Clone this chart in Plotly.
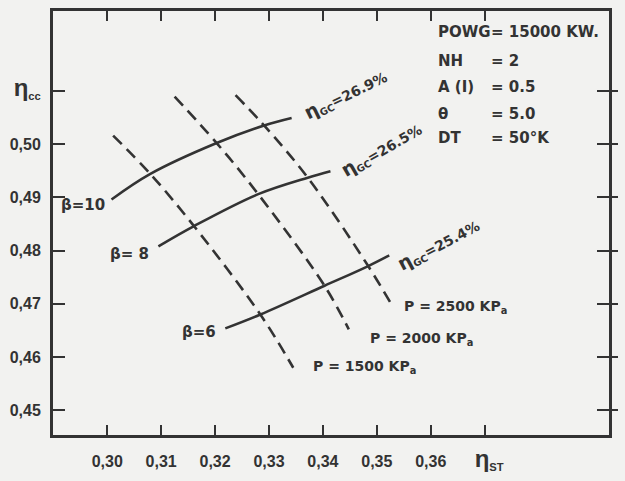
import plotly.graph_objects as go

# Cycle efficiency eta_cc versus steam-turbine efficiency eta_ST
# Solid curves: constant pressure ratio beta; dashed curves: constant pressure P
beta10_x = [0.3008, 0.3080, 0.3203, 0.3291, 0.3342]
beta10_y = [0.4896, 0.4944, 0.5002, 0.5035, 0.5049]
beta8_x = [0.3095, 0.3161, 0.3280, 0.3372, 0.3414]
beta8_y = [0.4808, 0.4846, 0.4906, 0.4937, 0.4949]
beta6_x = [0.3219, 0.3284, 0.3403, 0.3484, 0.3523]
beta6_y = [0.4654, 0.4680, 0.4734, 0.4771, 0.4791]

p1500_x = [0.3011, 0.3080, 0.3161, 0.3284, 0.3345]
p1500_y = [0.5016, 0.4944, 0.4846, 0.4680, 0.4580]
p2000_x = [0.3125, 0.3203, 0.3280, 0.3403, 0.3448]
p2000_y = [0.5089, 0.5002, 0.4906, 0.4734, 0.4652]
p2500_x = [0.3238, 0.3291, 0.3372, 0.3484, 0.3531]
p2500_y = [0.5092, 0.5035, 0.4937, 0.4771, 0.4692]

x_ticks = [0.30, 0.31, 0.32, 0.33, 0.34, 0.35, 0.36, 0.37]
x_tick_text = ["0,30", "0,31", "0,32", "0,33", "0,34", "0,35", "0,36",
               "  <span style='font-size:24px'>η</span><sub>ST</sub>"]
y_ticks = [0.45, 0.46, 0.47, 0.48, 0.49, 0.50, 0.51]
y_tick_text = ["0,45", "0,46", "0,47", "0,48", "0,49", "0,50",
               "<span style='font-size:24px'>η</span><sub>cc</sub>"]

beta_labels = ["β=10", "β= 8", "β=6"]
eta_gc_labels = ["<span style='font-size:19px'>η</span><sub>GC</sub>=26.9%",
                 "<span style='font-size:19px'>η</span><sub>GC</sub>=26.5%",
                 "<span style='font-size:19px'>η</span><sub>GC</sub>=25.4%"]
p_labels = ["P = 2500 KP<sub>a</sub>", "P = 2000 KP<sub>a</sub>", "P = 1500 KP<sub>a</sub>"]
param_names = ["POWG", "NH", "A (I)", "θ", "DT"]
param_values = ["= 15000 KW.", "= 2", "= 0.5", "= 5.0", "= 50°K"]

INK = "#333333"
BG = "#f2f2f0"
TICK_FONT = dict(family="Liberation Sans, Arial, sans-serif", size=16, color=INK, weight=700)
HAND_FONT = dict(family="DejaVu Sans, sans-serif", size=15, color=INK, weight=700)
LABEL_FONT = dict(family="DejaVu Sans, sans-serif", size=14, color=INK, weight=700)
BLOCK_FONT = dict(family="DejaVu Sans, sans-serif", size=15, color=INK, weight=700)

fig = go.Figure()

for xs, ys in [(beta10_x, beta10_y), (beta8_x, beta8_y), (beta6_x, beta6_y)]:
    fig.add_trace(go.Scatter(
        x=xs, y=ys, mode="lines",
        line=dict(color=INK, width=2.6, shape="spline", smoothing=1.0),
        hoverinfo="skip", showlegend=False))

for xs, ys in [(p1500_x, p1500_y), (p2000_x, p2000_y), (p2500_x, p2500_y)]:
    fig.add_trace(go.Scatter(
        x=xs, y=ys, mode="lines",
        line=dict(color=INK, width=2.6, dash="12px,7px", shape="spline", smoothing=1.0),
        hoverinfo="skip", showlegend=False))

# empty trace carrying the right-hand tick axis
fig.add_trace(go.Scatter(x=[], y=[], yaxis="y2", showlegend=False, hoverinfo="skip"))

annotations = []

# beta labels, right-aligned at the start of each solid curve
beta_pos = [(0.3000, 0.4885), (0.3082, 0.4794), (0.3205, 0.4647)]
for text, (ax, ay) in zip(beta_labels, beta_pos):
    annotations.append(dict(x=ax, y=ay, xref="x", yref="y", text=text, showarrow=False,
                            xanchor="right", yanchor="middle", font=HAND_FONT))

# eta_GC labels, slanted along the ends of the solid curves
eta_pos = [(0.3441, 0.5093, -26), (0.3508, 0.4989, -30), (0.3614, 0.4811, -28)]
for text, (ax, ay, ang) in zip(eta_gc_labels, eta_pos):
    annotations.append(dict(x=ax, y=ay, xref="x", yref="y", text=text, showarrow=False,
                            xanchor="center", yanchor="middle", textangle=ang,
                            font=LABEL_FONT))

# pressure labels at the lower ends of the dashed curves
p_pos = [(0.3547, 0.4694), (0.3483, 0.4634), (0.3378, 0.4581)]
for text, (ax, ay) in zip(p_labels, p_pos):
    annotations.append(dict(x=ax, y=ay, xref="x", yref="y", text=text, showarrow=False,
                            xanchor="left", yanchor="middle", font=LABEL_FONT))

# parameter block in the upper right corner
row_y = [0.951, 0.881, 0.821, 0.756, 0.700]
for name, val, ry in zip(param_names, param_values, row_y):
    annotations.append(dict(x=0.688, y=ry, xref="paper", yref="paper", text=name,
                            showarrow=False, xanchor="left", yanchor="middle",
                            font=BLOCK_FONT))
    annotations.append(dict(x=0.784, y=ry, xref="paper", yref="paper", text=val,
                            showarrow=False, xanchor="left", yanchor="middle",
                            font=BLOCK_FONT))

fig.update_layout(
    width=625, height=481,
    margin=dict(l=53, r=8, t=11, b=40),
    paper_bgcolor=BG, plot_bgcolor=BG,
    showlegend=False,
    annotations=annotations,
    xaxis=dict(
        range=[0.28995, 0.39305], tickvals=x_ticks, ticktext=x_tick_text,
        ticks="inside", ticklen=10, tickwidth=2, tickcolor=INK,
        showline=True, linewidth=3, linecolor=INK, mirror="ticks",
        showgrid=False, zeroline=False, tickfont=TICK_FONT, ticklabelstandoff=10),
    yaxis=dict(
        range=[0.44537, 0.525], tickvals=y_ticks, ticktext=y_tick_text,
        ticks="inside", ticklen=12, tickwidth=2, tickcolor=INK,
        showline=True, linewidth=3, linecolor=INK, mirror="ticks",
        showgrid=False, zeroline=False, tickfont=TICK_FONT, ticklabelstandoff=6),
    yaxis2=dict(
        range=[0.44537, 0.525], tickvals=y_ticks, overlaying="y", side="right",
        ticks="outside", ticklen=8, tickwidth=2, tickcolor=INK,
        showticklabels=False, showline=False, showgrid=False, zeroline=False),
)

fig.write_html("out.html")
